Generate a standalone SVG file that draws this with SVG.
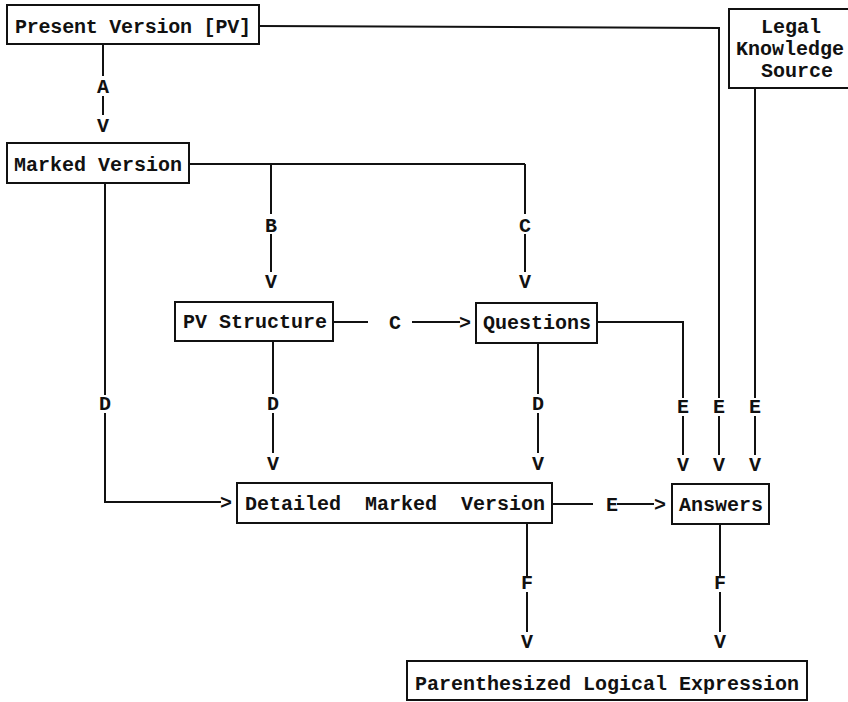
<svg xmlns="http://www.w3.org/2000/svg" width="848" height="702" viewBox="0 0 848 702">
  <style>
    .box { fill: #fff; stroke: #111; stroke-width: 2; }
    .ln { fill: none; stroke: #111; stroke-width: 2; }
    text { font-family: "Liberation Mono", "Courier New", monospace; font-weight: bold; font-size: 20px; fill: #111; }
    .m { text-anchor: middle; }
  </style>
  <rect width="848" height="702" fill="#fff"/>

  <!-- connectors -->
  <g id="connectors">
    <!-- A: Present Version -> Marked Version -->
    <path class="ln" d="M103 44 V76 M103 96 V115"/>
    <text class="m" x="103" y="93">A</text>
    <text class="m" x="103" y="132">V</text>

    <!-- Marked Version trunk to B and C -->
    <path class="ln" d="M189 164 H525 M271 164 V214 M271 234 V272 M525 164 V214 M525 234 V272"/>
    <text class="m" x="271" y="232">B</text>
    <text class="m" x="271" y="288">V</text>
    <text class="m" x="525" y="232">C</text>
    <text class="m" x="525" y="288">V</text>

    <!-- C: PV Structure -> Questions -->
    <path class="ln" d="M333 322 H368 M412 322 H460"/>
    <text class="m" x="395" y="329">C</text>
    <text class="m" x="465" y="329">&gt;</text>

    <!-- D: Marked Version -> Detailed Marked Version -->
    <path class="ln" d="M105 183 V395 M105 413 V502 H221"/>
    <text class="m" x="105" y="410">D</text>
    <text class="m" x="226" y="509">&gt;</text>

    <!-- D: PV Structure -> Detailed Marked Version -->
    <path class="ln" d="M273 341 V394 M273 413 V453"/>
    <text class="m" x="273" y="410">D</text>
    <text class="m" x="273" y="470">V</text>

    <!-- D: Questions -> Detailed Marked Version -->
    <path class="ln" d="M538 343 V394 M538 413 V453"/>
    <text class="m" x="538" y="410">D</text>
    <text class="m" x="538" y="470">V</text>

    <!-- E: Questions -> Answers -->
    <path class="ln" d="M597 322 H683 V398 M683 416 V455"/>
    <text class="m" x="683" y="413">E</text>
    <text class="m" x="683" y="471">V</text>

    <!-- E: Present Version -> Answers -->
    <path class="ln" d="M259 26 L719 28 V398 M719 416 V455"/>
    <text class="m" x="719" y="413">E</text>
    <text class="m" x="719" y="471">V</text>

    <!-- E: Legal Knowledge Source -> Answers -->
    <path class="ln" d="M755 88 V398 M755 416 V455"/>
    <text class="m" x="755" y="413">E</text>
    <text class="m" x="755" y="471">V</text>

    <!-- E: Detailed Marked Version -> Answers -->
    <path class="ln" d="M552 504 H593 M617 504 H654"/>
    <text class="m" x="612" y="511">E</text>
    <text class="m" x="660" y="511">&gt;</text>

    <!-- F: Detailed Marked Version -> Parenthesized Logical Expression -->
    <path class="ln" d="M527 523 V576 M527 592 V632"/>
    <text class="m" x="527" y="589">F</text>
    <text class="m" x="527" y="648">V</text>

    <!-- F: Answers -> Parenthesized Logical Expression -->
    <path class="ln" d="M720 524 V576 M720 592 V632"/>
    <text class="m" x="720" y="589">F</text>
    <text class="m" x="720" y="648">V</text>
  </g>

  <!-- nodes -->
  <g id="present-version">
    <rect class="box" x="7" y="5" width="252" height="39"/>
    <text x="15" y="33" textLength="236" lengthAdjust="spacing">Present Version [PV]</text>
  </g>

  <g id="legal-knowledge-source">
    <rect class="box" x="729" y="9" width="140" height="79"/>
    <text x="761" y="33">Legal</text>
    <text x="736" y="55">Knowledge</text>
    <text x="761" y="77">Source</text>
  </g>

  <g id="marked-version">
    <rect class="box" x="7" y="143" width="182" height="40"/>
    <text x="14" y="171">Marked Version</text>
  </g>

  <g id="pv-structure">
    <rect class="box" x="175" y="302" width="158" height="39"/>
    <text x="183" y="328">PV Structure</text>
  </g>

  <g id="questions">
    <rect class="box" x="476" y="303" width="121" height="40"/>
    <text x="483" y="329">Questions</text>
  </g>

  <g id="detailed-marked-version">
    <rect class="box" x="237" y="483" width="315" height="40"/>
    <text x="245" y="510" xml:space="preserve">Detailed  Marked  Version</text>
  </g>

  <g id="answers">
    <rect class="box" x="672" y="484" width="97" height="40"/>
    <text x="679" y="511">Answers</text>
  </g>

  <g id="parenthesized-logical-expression">
    <rect class="box" x="407" y="661" width="400" height="39"/>
    <text x="415" y="690">Parenthesized Logical Expression</text>
  </g>
</svg>
